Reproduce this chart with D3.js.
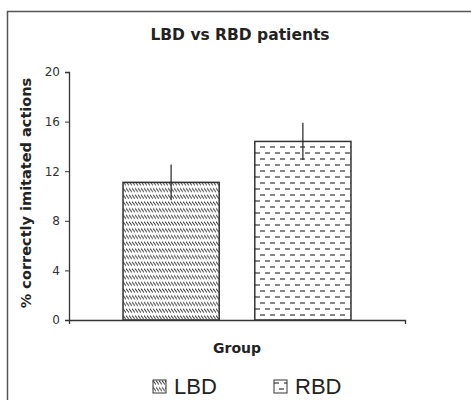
<!DOCTYPE html>
<html>
<head>
<meta charset="utf-8">
<title>LBD vs RBD patients</title>
<style>
  body { margin: 0; background: #fff; }
  text { font-family: 'DejaVu Sans', Verdana, sans-serif; fill: #222; }
  .title, .axis-title { font-weight: bold; }
  .tick text { font-size: 12px; fill: #333; font-family: 'DejaVu Sans', Verdana, sans-serif; }
  .legend text { font-size: 22px; fill: #222; font-family: Arial, 'Liberation Sans', sans-serif; }
</style>
</head>
<body>
<div id="chart"></div>
<script src="https://cdn.jsdelivr.net/npm/d3@7"></script>
<script>
(function(d3) {
  'use strict';
  var groups = ['LBD', 'RBD'];
  var means = [11.1, 14.4];
  var errors = [1.45, 1.5];
  var yTicks = [0, 4, 8, 12, 16, 20];

  var width = 471, height = 400;
  var left = 69, right = 405, top = 72, bottom = 320;

  var svg = d3.select('#chart').append('svg')
    .attr('width', width)
    .attr('height', height);

  var defs = svg.append('defs');
  // rows of short back slashes
  var p1 = defs.append('pattern')
    .attr('id', 'pat-lbd').attr('patternUnits', 'userSpaceOnUse')
    .attr('width', 3).attr('height', 6.7);
  p1.append('rect').attr('width', 3).attr('height', 6.7).attr('fill', '#fff');
  p1.append('line').attr('x1', 0).attr('y1', 0.5).attr('x2', 3).attr('y2', 4.5)
    .attr('stroke', '#444').attr('stroke-width', 1);
  // staggered rows of dashes
  var p2 = defs.append('pattern')
    .attr('id', 'pat-rbd').attr('patternUnits', 'userSpaceOnUse')
    .attr('width', 10).attr('height', 12);
  p2.append('rect').attr('width', 10).attr('height', 12).attr('fill', '#fff');
  p2.append('line').attr('x1', 0).attr('y1', 3).attr('x2', 5).attr('y2', 3)
    .attr('stroke', '#444').attr('stroke-width', 1.3);
  p2.append('line').attr('x1', 5).attr('y1', 9).attr('x2', 10).attr('y2', 9)
    .attr('stroke', '#444').attr('stroke-width', 1.3);

  var fills = ['url(#pat-lbd)', 'url(#pat-rbd)'];

  // outer frame
  svg.append('rect')
    .attr('x', 7.5).attr('y', 11.5)
    .attr('width', 500).attr('height', 420)
    .attr('fill', 'none').attr('stroke', '#555').attr('stroke-width', 1.5);

  svg.append('text').attr('class', 'title')
    .attr('x', 240).attr('y', 40)
    .attr('text-anchor', 'middle').style('font-size', '15.5px')
    .text('LBD vs RBD patients');

  var x = d3.scaleBand().domain(groups).range([left, right])
    .paddingInner(0.27).paddingOuter(0.41);
  var y = d3.scaleLinear().domain([0, 20]).range([bottom, top]);

  // bars
  svg.selectAll('.bar').data(groups).enter().append('rect')
    .attr('class', 'bar')
    .attr('x', function(d) { return x(d); })
    .attr('y', function(d, i) { return y(means[i]); })
    .attr('width', x.bandwidth())
    .attr('height', function(d, i) { return y(0) - y(means[i]); })
    .attr('fill', function(d, i) { return fills[i]; })
    .attr('stroke', '#333').attr('stroke-width', 1.5);

  // error bars
  svg.selectAll('.err').data(groups).enter().append('line')
    .attr('class', 'err')
    .attr('x1', function(d) { return x(d) + x.bandwidth() / 2; })
    .attr('x2', function(d) { return x(d) + x.bandwidth() / 2; })
    .attr('y1', function(d, i) { return y(means[i] + errors[i]); })
    .attr('y2', function(d, i) { return y(means[i] - errors[i]); })
    .attr('stroke', '#222').attr('stroke-width', 1.2);

  // y axis
  var yAxis = svg.append('g')
    .attr('transform', 'translate(' + left + ',0)')
    .call(d3.axisLeft(y).tickValues(yTicks).tickSize(4).tickPadding(5));
  yAxis.select('.domain').attr('stroke', '#333').attr('stroke-width', 1.3);
  yAxis.selectAll('.tick line').attr('stroke', '#333');

  // x axis baseline
  var xAxis = svg.append('g')
    .attr('transform', 'translate(0,' + bottom + ')')
    .call(d3.axisBottom(d3.scaleLinear().range([left, right])).tickValues([1]).tickSize(4).tickFormat(''));
  xAxis.select('.domain').attr('stroke', '#333').attr('stroke-width', 1.3);
  xAxis.selectAll('.tick line').attr('stroke', '#333');

  svg.append('text').attr('class', 'axis-title')
    .attr('x', 237).attr('y', 353)
    .attr('text-anchor', 'middle').style('font-size', '14px')
    .text('Group');

  svg.append('text').attr('class', 'axis-title')
    .attr('transform', 'translate(31,193) rotate(-90)')
    .attr('text-anchor', 'middle').style('font-size', '14.5px')
    .text('% correctly imitated actions');

  // legend
  var legendX = [153, 274];
  var legend = svg.selectAll('.legend').data(groups).enter().append('g')
    .attr('class', 'legend')
    .attr('transform', function(d, i) { return 'translate(' + legendX[i] + ',380)'; });
  legend.append('rect')
    .attr('width', 13).attr('height', 13)
    .attr('fill', function(d, i) { return fills[i]; })
    .attr('stroke', '#333').attr('stroke-width', 1);
  legend.append('text')
    .attr('x', 21).attr('y', 14)
    .text(function(d) { return d; });
})(window.d3);
</script>
</body>
</html>
